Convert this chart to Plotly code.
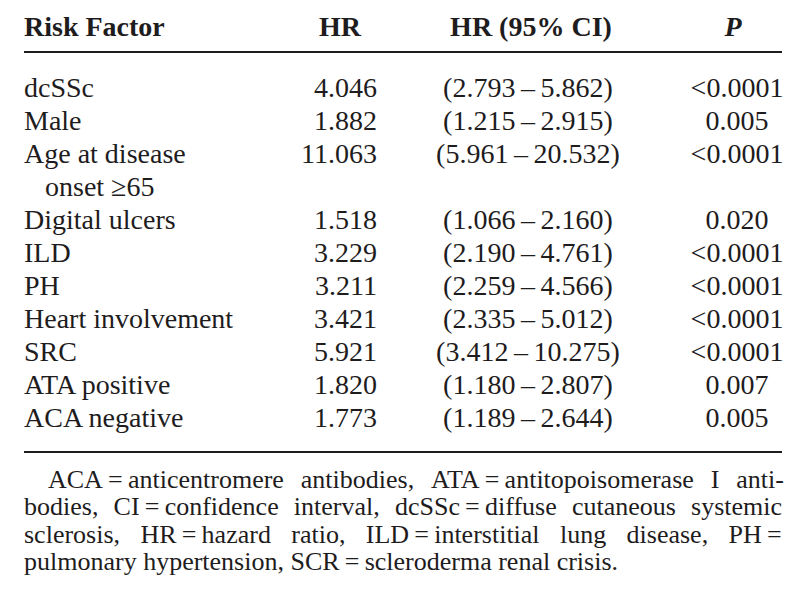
import plotly.graph_objects as go

# Datos de la tabla
encabezados = ["Risk Factor", "HR", "HR (95% CI)", "P"]
factores = ["dcSSc", "Male", "Age at disease onset ≥65", "Digital ulcers", "ILD", "PH",
            "Heart involvement", "SRC", "ATA positive", "ACA negative"]
hr = [4.046, 1.882, 11.063, 1.518, 3.229, 3.211, 3.421, 5.921, 1.820, 1.773]
ic_inf = [2.793, 1.215, 5.961, 1.066, 2.190, 2.259, 2.335, 3.412, 1.180, 1.189]
ic_sup = [5.862, 2.915, 20.532, 2.160, 4.761, 4.566, 5.012, 10.275, 2.807, 2.644]
valor_p = ["<0.0001", "0.005", "<0.0001", "0.020", "<0.0001", "<0.0001", "<0.0001",
           "<0.0001", "0.007", "0.005"]
nota = [
    "ACA = anticentromere antibodies, ATA = antitopoisomerase I anti-",
    "bodies, CI = confidence interval, dcSSc = diffuse cutaneous systemic",
    "sclerosis, HR = hazard ratio, ILD = interstitial lung disease, PH =",
    "pulmonary hypertension, SCR = scleroderma renal crisis.",
]
# etiquetas que ocupan dos lineas en la tabla
corte = {"Age at disease onset ≥65": ("Age at disease", "\u00a0\u00a0\u00a0onset ≥65")}

FUENTE = "Liberation Serif, Times New Roman, serif"
NEGRO = "#1e1c1d"
T_TABLA = 28
T_NOTA = 26

# columnas (px) y filas
X_FACTOR, X_HR, X_IC, X_P = 24, 377, 528, 737
Y_HEAD, Y_FILA0, PASO = 36, 97, 33
Y_REGLA1, Y_REGLA2 = 52, 452
Y_NOTA0, PASO_NOTA = 488, 27.3
# relleno de espacios para imitar el texto justificado de la nota
RELLENO = ["\u2009\u2009", "\u00a0\u200a", "\u00a0\u2009\u200a", ""]


def centro(base, tam):
    # Plotly centra el texto: la linea base queda ~0.25em por debajo
    return base - 0.25 * tam


def justificar(linea, extra):
    linea = linea.replace(" = ", "\u2009=\u2009").replace(" =", "\u2009=")
    return linea.replace(" ", " " + extra)


# construir lineas de la tabla
lin_fac, y_fac, y_val = [], [], []
fila = 0
for f in factores:
    partes = corte.get(f, (f,))
    y_val.append(centro(Y_FILA0 + PASO * fila, T_TABLA))
    for parte in partes:
        lin_fac.append(parte)
        y_fac.append(centro(Y_FILA0 + PASO * fila, T_TABLA))
        fila += 1

txt_hr = [f"{v:.3f}" for v in hr]
txt_ic = [f"({a:.3f}\u2009–\u2009{b:.3f})" for a, b in zip(ic_inf, ic_sup)]

fig = go.Figure()
fuente = dict(family=FUENTE, size=T_TABLA, color=NEGRO)

# encabezado
y_h = centro(Y_HEAD, T_TABLA)
fig.add_trace(go.Scatter(x=[X_FACTOR], y=[y_h], text=[f"<b>{encabezados[0]}</b>"],
                         mode="text", textposition="middle right", textfont=fuente))
fig.add_trace(go.Scatter(x=[340], y=[y_h], text=[f"<b>{encabezados[1]}</b>"],
                         mode="text", textposition="middle center", textfont=fuente))
fig.add_trace(go.Scatter(x=[531], y=[y_h], text=[f"<b>{encabezados[2]}</b>"],
                         mode="text", textposition="middle center", textfont=fuente))
fig.add_trace(go.Scatter(x=[733], y=[y_h], text=[f"<b><i>{encabezados[3]}</i></b>"],
                         mode="text", textposition="middle center", textfont=fuente))

# cuerpo
fig.add_trace(go.Scatter(x=[X_FACTOR] * len(lin_fac), y=y_fac, text=lin_fac,
                         mode="text", textposition="middle right", textfont=fuente))
fig.add_trace(go.Scatter(x=[X_HR] * len(hr), y=y_val, text=txt_hr,
                         mode="text", textposition="middle left", textfont=fuente))
fig.add_trace(go.Scatter(x=[X_IC] * len(txt_ic), y=y_val, text=txt_ic,
                         mode="text", textposition="middle center", textfont=fuente))
fig.add_trace(go.Scatter(x=[X_P] * len(valor_p), y=y_val, text=valor_p,
                         mode="text", textposition="middle center", textfont=fuente))

# nota al pie
x_nota = [48] + [24] * (len(nota) - 1)
y_nota = [centro(Y_NOTA0 + PASO_NOTA * i, T_NOTA) for i in range(len(nota))]
txt_nota = [justificar(l, e) for l, e in zip(nota, RELLENO)]
fig.add_trace(go.Scatter(x=x_nota, y=y_nota, text=txt_nota, mode="text",
                         textposition="middle right",
                         textfont=dict(family=FUENTE, size=T_NOTA, color=NEGRO)))

for yr in (Y_REGLA1, Y_REGLA2):
    fig.add_shape(type="line", x0=24, x1=782, y0=yr, y1=yr,
                  line=dict(color=NEGRO, width=2.2))

fig.update_layout(
    width=800, height=591, margin=dict(l=0, r=0, t=0, b=0),
    paper_bgcolor="white", plot_bgcolor="white", showlegend=False,
    xaxis=dict(range=[0, 800], visible=False, fixedrange=True),
    yaxis=dict(range=[591, 0], visible=False, fixedrange=True),
)
fig.update_traces(hoverinfo="skip", cliponaxis=False)
fig.write_html("out.html", config={"displayModeBar": False},
               post_script="document.body.style.margin = '0';")
